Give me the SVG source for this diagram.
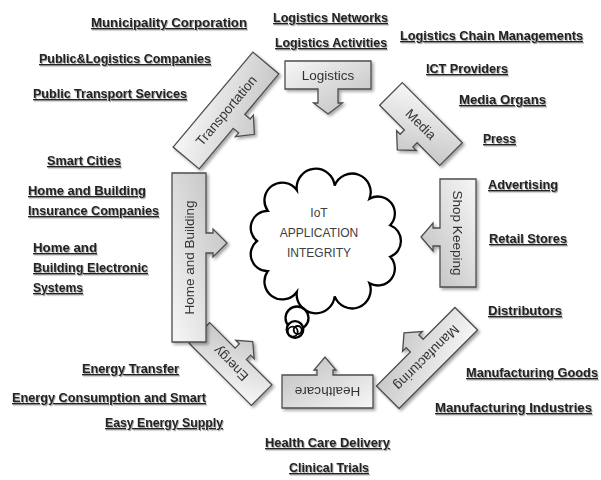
<svg xmlns="http://www.w3.org/2000/svg" width="601" height="480" viewBox="0 0 601 480">
<defs>
  <linearGradient id="gr" x1="0" y1="0" x2="1" y2="1">
    <stop offset="0" stop-color="#f7f7f7"/>
    <stop offset="1" stop-color="#bdbdbd"/>
  </linearGradient>
  <filter id="sh" x="-20%" y="-20%" width="140%" height="140%">
    <feDropShadow dx="2" dy="2" stdDeviation="1.5" flood-color="#000" flood-opacity="0.35"/>
  </filter>
  <filter id="tsh" x="-5%" y="-30%" width="110%" height="160%">
    <feDropShadow dx="1" dy="1.2" stdDeviation="0.6" flood-color="#000" flood-opacity="0.35"/>
  </filter>
</defs>
<style>
  .shape { fill: url(#gr); stroke: #4d4d4d; stroke-width: 1.3; stroke-linejoin: miter; }
  .st { font-family: "Liberation Sans", Arial, sans-serif; font-size: 13.5px; fill: #333; text-anchor: middle; }
  .lb { font-family: "Liberation Sans", Arial, sans-serif; font-size: 13px; font-weight: bold; fill: #222; text-decoration: underline; }
  .ct { font-family: "Liberation Sans", Arial, sans-serif; font-size: 12px; fill: #404040; text-anchor: middle; }
  .cl { fill: #fff; stroke: #000; stroke-width: 2.3; }
</style>
<rect width="601" height="480" fill="#fff"/>

<g id="cloud">
  <path class="cl" d="M257,241 A17,17 0 0 1 267.8,210.8 A17,17 0 0 1 296.8,190 A17,17 0 0 1 334.7,185.6 A17,17 0 0 1 369.5,198.7 A17,17 0 0 1 390.2,225.2 A17,17 0 0 1 390.2,256.8 A17,17 0 0 1 369.5,283.3 A17,17 0 0 1 334.7,296.4 A17,17 0 0 1 296.8,292 A17,17 0 0 1 267.8,271.2 A17,17 0 0 1 257,241 Z"/>
  <circle class="cl" cx="297" cy="318" r="11.5" fill="none"/>
  <circle cx="295" cy="329.5" r="8.3" fill="#fff" stroke="#000" stroke-width="2.3"/>
  <circle cx="292.7" cy="331.7" r="5" fill="none" stroke="#000" stroke-width="1.8"/>
  <circle cx="297.7" cy="330" r="4" fill="none" stroke="#000" stroke-width="1.8"/>
  <text class="ct" x="319" y="217">IoT</text>
  <text class="ct" x="319" y="237">APPLICATION</text>
  <text class="ct" x="319" y="257">INTEGRITY</text>
</g>

<g id="logistics" filter="url(#sh)">
  <g transform="translate(328,75)">
    <path class="shape" d="M-43,-14 H43 V14 H10 V28 H14.5 L0,39 L-14.5,28 H-10 V14 H-43 Z"/>
    <text class="st" x="0" y="5">Logistics</text>
  </g>
</g>

<g id="media" filter="url(#sh)">
  <g transform="translate(421,124) rotate(45)">
    <path class="shape" d="M-42.5,-16 H42.5 V16 H10.5 V22 H15.5 L1.5,35 L-12.5,22 H-7.5 V16 H-42.5 Z"/>
    <text class="st" x="0" y="5">Media</text>
  </g>
</g>

<g id="shopkeeping" filter="url(#sh)">
  <g transform="translate(458,233) rotate(90)">
    <path class="shape" d="M-54,-18 H54 V18 H13 V25 H18 L4,37 L-10,25 H-5 V18 H-54 Z"/>
    <text class="st" x="0" y="5">Shop Keeping</text>
  </g>
</g>

<g id="manufacturing" filter="url(#sh)">
  <g transform="translate(427,358) rotate(135)">
    <path class="shape" d="M-55.5,-16 H55.5 V16 H7.5 V22 H12.5 L-1.5,34 L-15.5,22 H-10.5 V16 H-55.5 Z"/>
    <text class="st" x="0" y="5">Manufacturing</text>
  </g>
</g>

<g id="healthcare" filter="url(#sh)">
  <g transform="translate(327.5,391.5) rotate(180)">
    <path class="shape" d="M-45.5,-16.5 H45.5 V16.5 H10.5 V21.5 H13.5 L2.5,34.5 L-8.5,21.5 H-5.5 V16.5 H-45.5 Z"/>
    <text class="st" x="0" y="5">Healthcare</text>
  </g>
</g>

<g id="energy" filter="url(#sh)">
  <g transform="translate(230.5,364) rotate(225)">
    <path class="shape" d="M-44,-14.5 H44 V14.5 H8 V20.5 H13 L0,31.5 L-13,20.5 H-8 V14.5 H-44 Z"/>
    <text class="st" x="0" y="5">Energy</text>
  </g>
</g>

<g id="homebuilding" filter="url(#sh)">
  <g transform="translate(189,257.5) rotate(-90)">
    <path class="shape" d="M-84.5,-17 H84.5 V17 H24.5 V24 H28.5 L14.5,38 L0.5,24 H4.5 V17 H-84.5 Z"/>
    <text class="st" x="0" y="5">Home and Building</text>
  </g>
</g>

<g id="transportation" filter="url(#sh)">
  <g transform="translate(226,110.5) rotate(-50)">
    <path class="shape" d="M-62,-17 H62 V17 H9 V24 H14 L0,37 L-14,24 H-9 V17 H-62 Z"/>
    <text class="st" x="0" y="5">Transportation</text>
  </g>
</g>

<g id="labels" filter="url(#tsh)">
  <text class="lb" x="91" y="27" textLength="156" lengthAdjust="spacingAndGlyphs">Municipality Corporation</text>
  <text class="lb" x="39" y="63" textLength="172" lengthAdjust="spacingAndGlyphs">Public&amp;Logistics Companies</text>
  <text class="lb" x="33" y="98" textLength="154" lengthAdjust="spacingAndGlyphs">Public Transport Services</text>
  <text class="lb" x="273" y="22" textLength="115" lengthAdjust="spacingAndGlyphs">Logistics Networks</text>
  <text class="lb" x="275" y="47" textLength="112" lengthAdjust="spacingAndGlyphs">Logistics Activities</text>
  <text class="lb" x="400" y="40" textLength="183" lengthAdjust="spacingAndGlyphs">Logistics Chain Managements</text>
  <text class="lb" x="426" y="73" textLength="82" lengthAdjust="spacingAndGlyphs">ICT Providers</text>
  <text class="lb" x="459" y="104" textLength="87" lengthAdjust="spacingAndGlyphs">Media Organs</text>
  <text class="lb" x="483" y="143" textLength="33" lengthAdjust="spacingAndGlyphs">Press</text>
  <text class="lb" x="488" y="189" textLength="70" lengthAdjust="spacingAndGlyphs">Advertising</text>
  <text class="lb" x="489" y="243" textLength="78" lengthAdjust="spacingAndGlyphs">Retail Stores</text>
  <text class="lb" x="47" y="165" textLength="74" lengthAdjust="spacingAndGlyphs">Smart Cities</text>
  <text class="lb" x="28" y="195" textLength="118" lengthAdjust="spacingAndGlyphs">Home and Building</text>
  <text class="lb" x="28" y="215" textLength="131" lengthAdjust="spacingAndGlyphs">Insurance Companies</text>
  <text class="lb" x="33" y="252" textLength="64" lengthAdjust="spacingAndGlyphs">Home and</text>
  <text class="lb" x="33" y="272" textLength="115" lengthAdjust="spacingAndGlyphs">Building Electronic</text>
  <text class="lb" x="33" y="292" textLength="50" lengthAdjust="spacingAndGlyphs">Systems</text>
  <text class="lb" x="488" y="315" textLength="74" lengthAdjust="spacingAndGlyphs">Distributors</text>
  <text class="lb" x="466" y="377" textLength="132" lengthAdjust="spacingAndGlyphs">Manufacturing Goods</text>
  <text class="lb" x="435" y="412" textLength="157" lengthAdjust="spacingAndGlyphs">Manufacturing Industries</text>
  <text class="lb" x="82" y="373" textLength="97" lengthAdjust="spacingAndGlyphs">Energy Transfer</text>
  <text class="lb" x="12" y="402" textLength="194" lengthAdjust="spacingAndGlyphs">Energy Consumption and Smart</text>
  <text class="lb" x="105" y="427" textLength="118" lengthAdjust="spacingAndGlyphs">Easy Energy Supply</text>
  <text class="lb" x="265" y="447" textLength="125" lengthAdjust="spacingAndGlyphs">Health Care Delivery</text>
  <text class="lb" x="289" y="472" textLength="80" lengthAdjust="spacingAndGlyphs">Clinical Trials</text>
</g>
</svg>
